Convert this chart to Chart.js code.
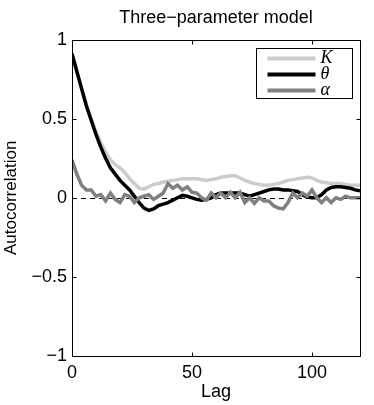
<!DOCTYPE html>
<html>
<head>
<meta charset="utf-8">
<script src="https://cdn.jsdelivr.net/npm/chart.js@4"></script>
<style>
  html, body { margin: 0; padding: 0; background: #fff; }
  #wrap { width: 374px; height: 405px; }
</style>
</head>
<body>
<div id="wrap"><canvas id="acf-chart"></canvas></div>
<script>
const lags = [0, 2, 4, 6, 8, 10, 12, 14, 16, 18, 20, 22, 24, 26, 28, 30, 32, 34, 36, 38,
    40, 42, 44, 46, 48, 50, 52, 54, 56, 58, 60, 62, 64, 66, 68, 70, 72, 74, 76, 78,
    80, 82, 84, 86, 88, 90, 92, 94, 96, 98, 100, 102, 104, 106, 108, 110, 112, 114, 116, 118, 120];

const kValues = [0.91, 0.80, 0.69, 0.59, 0.50, 0.42, 0.35, 0.29, 0.24, 0.21, 0.19, 0.16, 0.12, 0.09, 0.06, 0.055, 0.07, 0.085, 0.09, 0.10,
    0.105, 0.11, 0.115, 0.12, 0.12, 0.12, 0.12, 0.115, 0.11, 0.115, 0.12, 0.13, 0.135, 0.14, 0.14, 0.125, 0.11, 0.10, 0.09, 0.085,
    0.08, 0.08, 0.085, 0.09, 0.10, 0.11, 0.115, 0.12, 0.125, 0.13, 0.125, 0.11, 0.10, 0.095, 0.09, 0.09, 0.09, 0.085, 0.08, 0.08, 0.08];

const thetaValues = [0.91, 0.80, 0.69, 0.58, 0.49, 0.40, 0.32, 0.25, 0.19, 0.15, 0.11, 0.08, 0.05, 0.01, -0.03, -0.065, -0.08, -0.07, -0.05, -0.04,
    -0.03, -0.015, 0.0, 0.015, 0.01, 0.0, -0.01, -0.015, -0.01, 0.0, 0.02, 0.03, 0.03, 0.03, 0.03, 0.03, 0.02, 0.01, 0.02, 0.03,
    0.04, 0.05, 0.055, 0.055, 0.05, 0.05, 0.045, 0.04, 0.02, 0.005, 0.0, 0.0, 0.02, 0.05, 0.065, 0.07, 0.07, 0.065, 0.06, 0.05, 0.045];

const alphaValues = [0.24, 0.15, 0.08, 0.05, 0.05, 0.01, 0.02, -0.02, 0.03, -0.01, -0.03, 0.02, 0.01, -0.03, 0.0, 0.01, 0.02, -0.01, 0.01, 0.03,
    0.09, 0.06, 0.08, 0.05, 0.07, 0.035, 0.03, 0.0, -0.015, 0.03, 0.0, 0.03, 0.0, 0.035, 0.0, 0.035, -0.03, 0.0, -0.035, 0.0,
    -0.02, -0.02, -0.05, -0.065, -0.07, -0.03, 0.03, 0.0, 0.03, 0.01, 0.05, 0.0, -0.03, 0.0, -0.03, 0.0, -0.01, 0.01, 0.0, 0.0, 0.0];

const seriesLabels = ['K', 'θ', 'α'];
const seriesColors = ['#cccccc', '#000000', '#808080'];
const xTicks = [0, 50, 100];
const yTicks = [-1, -0.5, 0, 0.5, 1];

const fontFamily = '"Liberation Sans", Arial, Helvetica, sans-serif';
const minus = v => String(v).replace('-', '\u2212');

function toPoints(values) {
    return lags.map((lag, i) => ({ x: lag, y: values[i] }));
}

// MATLAB-ish box, inward ticks, dashed zero line and legend
const matlabAxes = {
    id: 'matlabAxes',
    beforeDatasetsDraw(chart) {
        const { ctx, chartArea: a, scales: { y } } = chart;
        const zy = Math.round(y.getPixelForValue(0)) + 0.5;
        ctx.save();
        ctx.strokeStyle = '#000';
        ctx.lineWidth = 1;
        ctx.setLineDash([5, 4]);
        ctx.beginPath();
        ctx.moveTo(a.left, zy);
        ctx.lineTo(a.right, zy);
        ctx.stroke();
        ctx.restore();
    },
    afterDraw(chart) {
        const { ctx, chartArea: a, scales: { x, y } } = chart;
        const L = Math.round(a.left) + 0.5, R = Math.round(a.right) + 0.5;
        const T = Math.round(a.top) + 0.5, B = Math.round(a.bottom) + 0.5;
        ctx.save();
        ctx.strokeStyle = '#000';
        ctx.lineWidth = 1;
        ctx.beginPath();
        ctx.rect(L, T, R - L, B - T);
        xTicks.forEach(v => {
            const px = Math.round(x.getPixelForValue(v)) + 0.5;
            ctx.moveTo(px, B); ctx.lineTo(px, B - 4);
            ctx.moveTo(px, T); ctx.lineTo(px, T + 4);
        });
        yTicks.forEach(v => {
            const py = Math.round(y.getPixelForValue(v)) + 0.5;
            ctx.moveTo(L, py); ctx.lineTo(L + 4, py);
            ctx.moveTo(R, py); ctx.lineTo(R - 4, py);
        });
        ctx.stroke();

        // legend
        const bw = 96, bh = 50;
        const bx = Math.round(a.right) - 8 - bw + 0.5;
        const by = Math.round(a.top) + 8 + 0.5;
        ctx.fillStyle = '#fff';
        ctx.fillRect(bx, by, bw, bh);
        ctx.strokeRect(bx, by, bw, bh);
        chart.data.datasets.forEach((ds, i) => {
            const ry = by + 10 + i * 16;
            ctx.strokeStyle = ds.borderColor;
            ctx.lineWidth = 4;
            ctx.beginPath();
            ctx.moveTo(bx + 11, ry);
            ctx.lineTo(bx + 59, ry);
            ctx.stroke();
            ctx.fillStyle = '#000';
            ctx.font = 'italic 18px "Liberation Serif", "Times New Roman", serif';
            ctx.textBaseline = 'middle';
            ctx.textAlign = 'left';
            ctx.fillText(ds.label, bx + 64, ry);
        });
        ctx.restore();
    }
};

new Chart(document.getElementById('acf-chart'), {
    type: 'line',
    data: {
        datasets: seriesLabels.map((label, i) => ({
            label: label,
            data: toPoints([kValues, thetaValues, alphaValues][i]),
            borderColor: seriesColors[i],
            backgroundColor: seriesColors[i],
            borderWidth: 3.5,
            pointRadius: 0,
            tension: 0,
            order: 3 - i
        }))
    },
    options: {
        responsive: true,
        maintainAspectRatio: false,
        animation: false,
        layout: { padding: { left: 0, right: 14, top: 0, bottom: 0 } },
        plugins: {
            legend: { display: false },
            tooltip: { enabled: false },
            title: {
                display: true,
                fullSize: false,
                text: 'Three\u2212parameter model',
                color: '#000',
                font: { family: fontFamily, size: 18, weight: 'normal' },
                padding: { top: 7, bottom: 11 }
            }
        },
        scales: {
            x: {
                type: 'linear',
                min: 0,
                max: 120,
                afterBuildTicks: s => { s.ticks = xTicks.map(v => ({ value: v })); },
                afterFit: s => { s.height = 49; },
                grid: { display: false, drawTicks: false },
                border: { display: false },
                ticks: {
                    color: '#000',
                    padding: 6,
                    maxRotation: 0,
                    font: { family: fontFamily, size: 18 },
                    callback: v => minus(v)
                },
                title: {
                    display: true,
                    text: 'Lag',
                    color: '#000',
                    font: { family: fontFamily, size: 18 },
                    padding: { top: 0, bottom: 2 }
                }
            },
            y: {
                type: 'linear',
                min: -1,
                max: 1,
                afterBuildTicks: s => { s.ticks = yTicks.map(v => ({ value: v })); },
                afterFit: s => { s.width = 72; },
                grid: { display: false, drawTicks: false },
                border: { display: false },
                ticks: {
                    color: '#000',
                    padding: 5,
                    font: { family: fontFamily, size: 18 },
                    callback: v => minus(v)
                },
                title: {
                    display: true,
                    text: 'Autocorrelation',
                    color: '#000',
                    font: { family: fontFamily, size: 17 },
                    padding: { top: 1, bottom: 0 }
                }
            }
        }
    },
    plugins: [matlabAxes]
});
</script>
</body>
</html>
